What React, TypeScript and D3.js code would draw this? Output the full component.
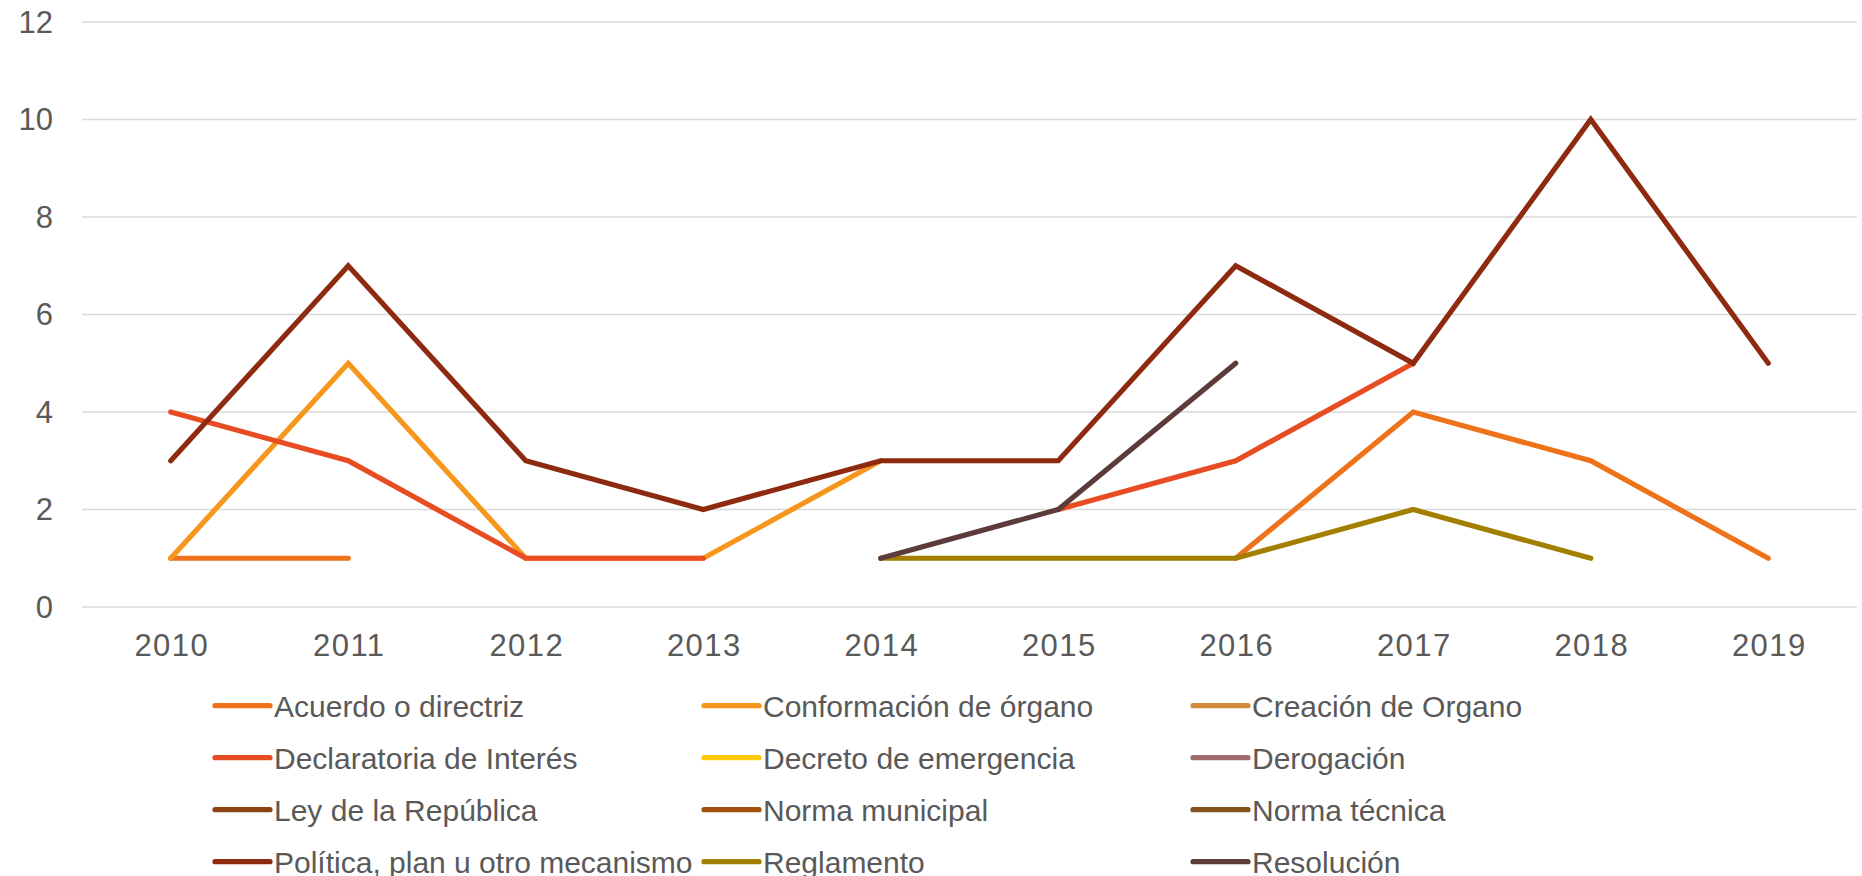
import React from "react";
import * as d3 from "d3";

const years = ["2010", "2011", "2012", "2013", "2014", "2015", "2016", "2017", "2018", "2019"];
const yTicks = [0, 2, 4, 6, 8, 10, 12];

const seriesNames = [
  "Acuerdo o directriz",
  "Conformación de órgano",
  "Creación de Organo",
  "Declaratoria de Interés",
  "Decreto de emergencia",
  "Derogación",
  "Ley de la República",
  "Norma municipal",
  "Norma técnica",
  "Política, plan u otro mecanismo",
  "Reglamento",
  "Resolución",
];

const seriesColors = [
  "#EE7219",
  "#F7961D",
  "#D48B3A",
  "#E84C22",
  "#FFC90A",
  "#9E6A6A",
  "#8A4510",
  "#A0520A",
  "#825218",
  "#8E2A0F",
  "#A37F00",
  "#5E3B3B",
];

type V = number | null;
const acuerdo: V[] = [1, 1, null, null, null, null, 1, 4, 3, 1];
const conformacion: V[] = [1, 5, 1, 1, 3, null, null, null, null, null];
const creacion: V[] = [null, null, null, null, null, null, null, null, null, null];
const declaratoria: V[] = [4, 3, 1, 1, null, 2, 3, 5, null, null];
const decreto: V[] = [null, null, null, null, null, null, null, null, null, null];
const derogacion: V[] = [null, null, null, null, null, null, null, null, null, null];
const ley: V[] = [null, null, null, null, null, null, null, null, null, null];
const normaMunicipal: V[] = [null, null, null, null, null, null, null, null, null, null];
const normaTecnica: V[] = [null, null, null, null, null, null, null, null, null, null];
const politica: V[] = [3, 7, 3, 2, 3, 3, 7, 5, 10, 5];
const reglamento: V[] = [null, null, null, null, 1, 1, 1, 2, 1, null];
const resolucion: V[] = [null, null, null, null, 1, 2, 5, null, null, null];

const seriesValues = [
  acuerdo, conformacion, creacion, declaratoria, decreto, derogacion,
  ley, normaMunicipal, normaTecnica, politica, reglamento, resolucion,
];

const W = 1862;
const H = 876;
const FONT = "'Liberation Sans', Arial, sans-serif";
const TEXT = "#595959";

export default function App() {
  const x = d3.scaleBand<string>().domain(years).range([82, 1857]).padding(0);
  const y = d3.scaleLinear().domain([0, 12]).range([607, 22]);
  const cx = (yr: string) => (x(yr) ?? 0) + x.bandwidth() / 2;

  const line = d3
    .line<{ yr: string; v: V }>()
    .defined((d) => d.v != null)
    .x((d) => cx(d.yr))
    .y((d) => y(d.v as number));

  const legendX0 = 215;
  const legendColStep = 489;
  const legendY0 = 705.7;
  const legendRowStep = 52;

  return (
    <svg
      width={W}
      height={H}
      style={{ position: "absolute", left: 0, top: 0, background: "#fff" }}
    >
      {yTicks.map((t) => (
        <g key={t}>
          <line x1={82} x2={1857} y1={y(t)} y2={y(t)} stroke="#d9d9d9" strokeWidth={1.5} />
          <text
            x={53}
            y={y(t)}
            textAnchor="end"
            dominantBaseline="central"
            fontFamily={FONT}
            fontSize={31}
            fill={TEXT}
          >
            {t}
          </text>
        </g>
      ))}
      {years.map((yr) => (
        <text
          key={yr}
          x={cx(yr) + 1}
          y={656}
          textAnchor="middle"
          fontFamily={FONT}
          fontSize={31}
          letterSpacing={1.4}
          fill={TEXT}
        >
          {yr}
        </text>
      ))}
      {seriesValues.map((vals, i) => (
        <path
          key={seriesNames[i]}
          d={line(years.map((yr, j) => ({ yr, v: vals[j] }))) ?? ""}
          fill="none"
          stroke={seriesColors[i]}
          strokeWidth={5.2}
          strokeLinecap="round"
          strokeLinejoin="miter"
        />
      ))}
      {seriesNames.map((name, i) => {
        const col = i % 3;
        const row = Math.floor(i / 3);
        const lx = legendX0 + col * legendColStep;
        const ly = legendY0 + row * legendRowStep;
        return (
          <g key={name}>
            <line
              x1={lx}
              x2={lx + 55}
              y1={ly}
              y2={ly}
              stroke={seriesColors[i]}
              strokeWidth={5.2}
              strokeLinecap="round"
            />
            <text
              x={lx + 59}
              y={ly + 11}
              fontFamily={FONT}
              fontSize={30}
              fill={TEXT}
            >
              {name}
            </text>
          </g>
        );
      })}
    </svg>
  );
}
